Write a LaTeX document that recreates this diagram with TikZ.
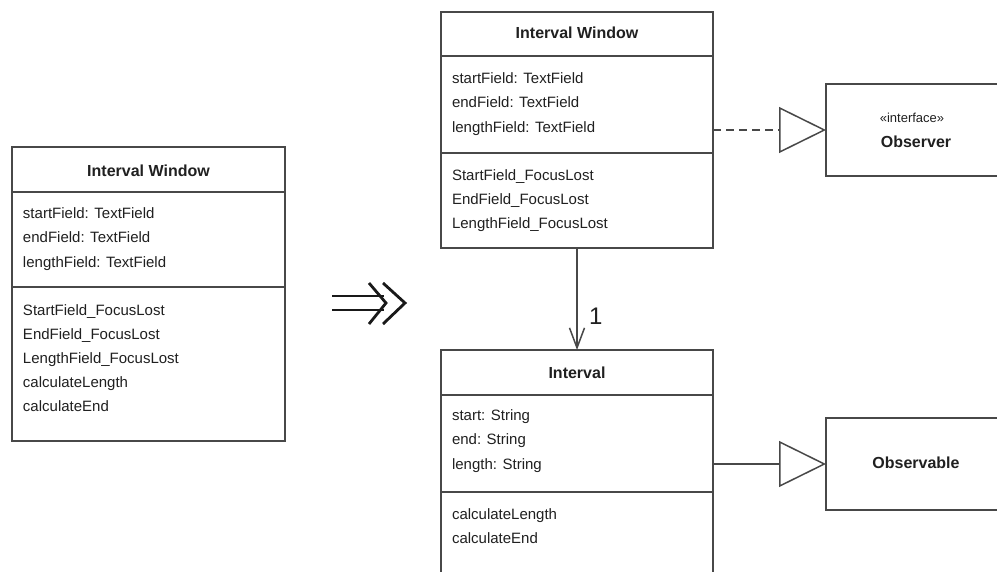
\documentclass[tikz,border=0pt]{standalone}
\usepackage{fontspec}
\setmainfont{Liberation Sans}
\usetikzlibrary{arrows.meta}
\definecolor{umlline}{HTML}{484848}
\definecolor{umltext}{HTML}{202020}
\tikzset{
    every node/.style={inner sep=0pt, outer sep=0pt, text=umltext}
}
\tikzset{
    classbox/.style={rectangle, draw=umlline, line width=1.5pt},
    divider/.style={draw=umlline, line width=1.5pt},
    title/.style={font=\fontsize{16}{18}\selectfont\bfseries,
        text height=11.5pt, text depth=0pt},
    member/.style={anchor=west, font=\fontsize{15}{17}\selectfont,
        text height=10pt, text depth=0pt},
    stereo/.style={font=\fontsize{13}{15}\selectfont,
        text height=9pt, text depth=0pt},
    implies/.style={line width=2.8pt, black!90, line join=miter},
    assoc/.style={draw=umlline, line width=1.5pt,
        -{Straight Barb[length=20pt, width=15pt, line width=1.5pt]}},
    generalize/.style={draw=umlline, line width=1.5pt,
        -{Triangle[open, length=47pt, width=46pt, line width=1.5pt]}}
}

\begin{document}
\begin{tikzpicture}[x=1pt, y=-1pt]
	\clip (0,0) rectangle (997,571);
	\fill[white] (0,0) rectangle (997,571);

	% left class
	\node (winL) [classbox, minimum width=273pt, minimum height=294pt] at (148.5,294) {};
	\draw[divider] (winL.west |- 0,192) -- (winL.east |- 0,192);
	\draw[divider] (winL.west |- 0,287) -- (winL.east |- 0,287);
	\node (winLt) [title] at (148.5,171) {Interval Window};
	\foreach \txt [count=\i] in {startField: TextField, endField: TextField,
		lengthField: TextField}
		\node (winLa\i) [member] at (23,{213+24.5*(\i-1)}) {\txt};
	\foreach \txt [count=\i] in {StartField\_FocusLost, EndField\_FocusLost,
		LengthField\_FocusLost, calculateLength, calculateEnd}
		\node (winLo\i) [member] at (23,{310+24.2*(\i-1)}) {\txt};

	% refactoring arrow
	\draw[implies] (332,296) -- (384,296);
	\draw[implies] (332,310) -- (384,310);
	\draw[implies] (369,283) -- (386,303) -- (369,324);
	\draw[implies] (383,283) -- (405,303) -- (383,324);

	% right classes
	\node (winR) [classbox, minimum width=272pt, minimum height=236pt] at (577,130) {};
	\draw[divider] (winR.west |- 0,56) -- (winR.east |- 0,56);
	\draw[divider] (winR.west |- 0,153) -- (winR.east |- 0,153);
	\node (winRt) [title] at (577,33) {Interval Window};
	\foreach \txt [count=\i] in {startField: TextField, endField: TextField,
		lengthField: TextField}
		\node (winRa\i) [member] at (452,{78+24.5*(\i-1)}) {\txt};
	\foreach \txt [count=\i] in {StartField\_FocusLost, EndField\_FocusLost,
		LengthField\_FocusLost}
		\node (winRo\i) [member] at (452,{175+24.2*(\i-1)}) {\txt};

	\node (intv) [classbox, minimum width=272pt, minimum height=280pt] at (577,490) {};
	\draw[divider] (intv.west |- 0,395) -- (intv.east |- 0,395);
	\draw[divider] (intv.west |- 0,492) -- (intv.east |- 0,492);
	\node (intvt) [title] at (577,373) {Interval};
	\foreach \txt [count=\i] in {start: String, end: String, length: String}
		\node (intva\i) [member] at (452,{415+24.5*(\i-1)}) {\txt};
	\foreach \txt [count=\i] in {calculateLength, calculateEnd}
		\node (intvo\i) [member] at (452,{514+24.5*(\i-1)}) {\txt};

	\node (obs) [classbox, minimum width=180pt, minimum height=92pt] at (916,130) {};
	\node (obss) [stereo] at (912,118) {«interface»};
	\node (obst) [title] at (916,142) {Observer};

	\node (obsl) [classbox, minimum width=180pt, minimum height=92pt] at (916,464) {};
	\node (obslt) [title] at (916,463) {Observable};

	% connectors
	\draw[assoc] (winR.south) -- (intv.north)
		node [pos=0.67, anchor=west, xshift=12pt,
			font=\fontsize{24}{26}\selectfont] {1};
	\draw[generalize, dash pattern=on 8pt off 5pt] (winR.east |- obs.west) -- (obs.west);
	\draw[generalize] (intv.east |- obsl.west) -- (obsl.west);
\end{tikzpicture}
\end{document}
